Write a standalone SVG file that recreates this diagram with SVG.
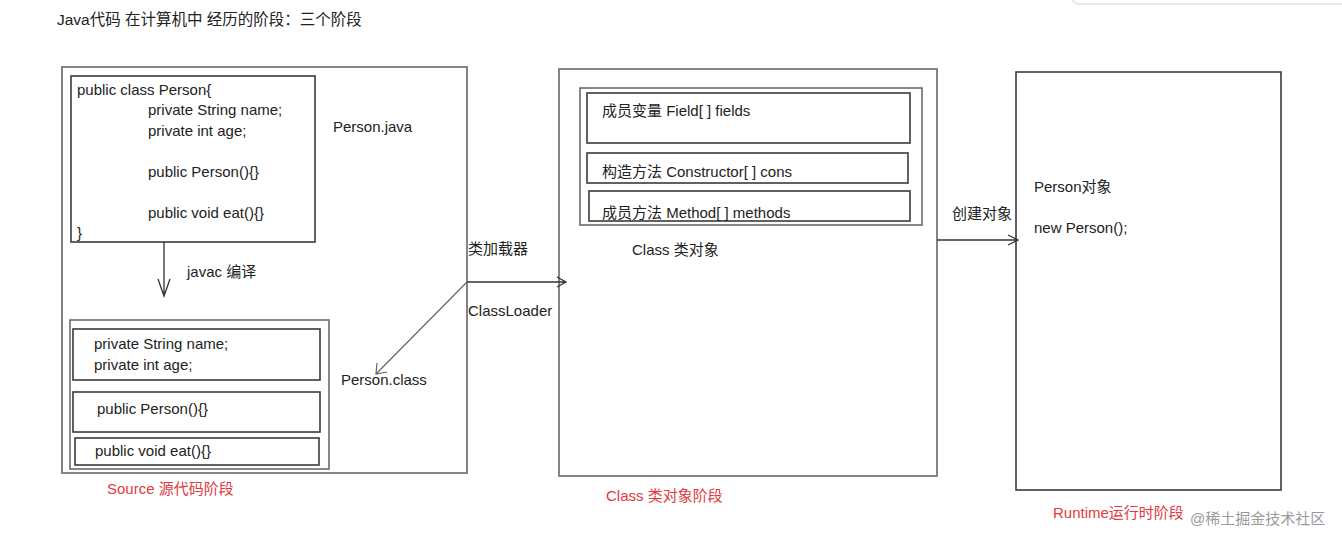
<svg xmlns="http://www.w3.org/2000/svg" width="1342" height="546" viewBox="0 0 1342 546">
<style>
text{font-family:"Liberation Sans","Noto Sans CJK SC",Arial,sans-serif;font-size:15px;fill:#222}
.title{font-size:15.5px}
.red{fill:#e03a40}
.wm{fill:#9a9a9a;font-size:15px}
.box{fill:none;stroke:#6a6a6a;stroke-width:1.6}
.outer{fill:none;stroke:#858585;stroke-width:2}
.dark{fill:none;stroke:#3a3a3a;stroke-width:1.6}
.conn{fill:none;stroke:#333;stroke-width:1.3}
.conng{fill:none;stroke:#666;stroke-width:1.2}
</style>
<rect width="1342" height="546" fill="#fff"/>
<path d="M1073 0 Q1073 4 1080 4 L1342 4" fill="none" stroke="#e2e2e2" stroke-width="1.5"/>
<text class="title" x="57" y="25">Java代码  在计算机中  经历的阶段：三个阶段</text>

<g id="source-stage">
  <rect class="outer" x="62" y="67" width="405" height="406"/>
  <g id="person-java">
    <rect class="dark" x="71" y="76" width="244" height="166"/>
    <text x="77" y="95">public class Person{</text>
    <text x="148" y="115">private String name;</text>
    <text x="148" y="136">private int age;</text>
    <text x="148" y="177">public Person(){}</text>
    <text x="148" y="218">public void eat(){}</text>
    <text x="77" y="238">}</text>
  </g>
  <text x="333" y="132">Person.java</text>
  <g id="person-class">
    <rect class="box" x="70" y="320" width="259" height="149"/>
    <rect class="dark" x="73" y="329" width="247" height="51"/>
    <text x="94" y="349">private String name;</text>
    <text x="94" y="370">private int age;</text>
    <rect class="dark" x="73" y="392" width="247" height="40"/>
    <text x="97" y="414">public Person(){}</text>
    <rect class="dark" x="75" y="438" width="244" height="27"/>
    <text x="95" y="456">public void eat(){}</text>
  </g>
  <text x="341" y="385">Person.class</text>
  <text x="187" y="277">javac 编译</text>
</g>
<text class="red" x="107" y="494">Source 源代码阶段</text>

<g id="class-stage">
  <rect class="outer" x="559" y="69" width="378" height="407"/>
  <rect class="box" x="580" y="88" width="342" height="137"/>
  <rect class="dark" x="587" y="93" width="323" height="50"/>
  <text x="602" y="116">成员变量  Field[ ] fields</text>
  <rect class="dark" x="587" y="153" width="321" height="30"/>
  <text x="602" y="177">构造方法  Constructor[ ] cons</text>
  <rect class="dark" x="589" y="191" width="321" height="30"/>
  <text x="602" y="218">成员方法 Method[ ] methods</text>
  <text x="632" y="255">Class 类对象</text>
</g>
<text class="red" x="606" y="501">Class 类对象阶段</text>

<g id="runtime-stage">
  <rect class="dark" x="1016" y="72" width="265" height="418"/>
  <text x="1034" y="192">Person对象</text>
  <text x="1034" y="233">new Person();</text>
</g>
<text class="red" x="1053" y="518">Runtime运行时阶段</text>
<text class="wm" x="1190" y="524">@稀土掘金技术社区</text>

<g id="connectors">
  <path class="conn" d="M164 242 L164 296 M158 279 L164 296 L170 279"/>
  <path class="conn" d="M467 282 L566 282 M557 277 L566 282 L557 287"/>
  <path class="conng" d="M467 282 L376 374 M377 363 L376 374 L387 372"/>
  <path class="conn" d="M937 240 L1018 240 M1008 235 L1018 240 L1008 245"/>
  <text x="468" y="254">类加载器</text>
  <text x="468" y="316">ClassLoader</text>
  <text x="952" y="219">创建对象</text>
</g>
</svg>
